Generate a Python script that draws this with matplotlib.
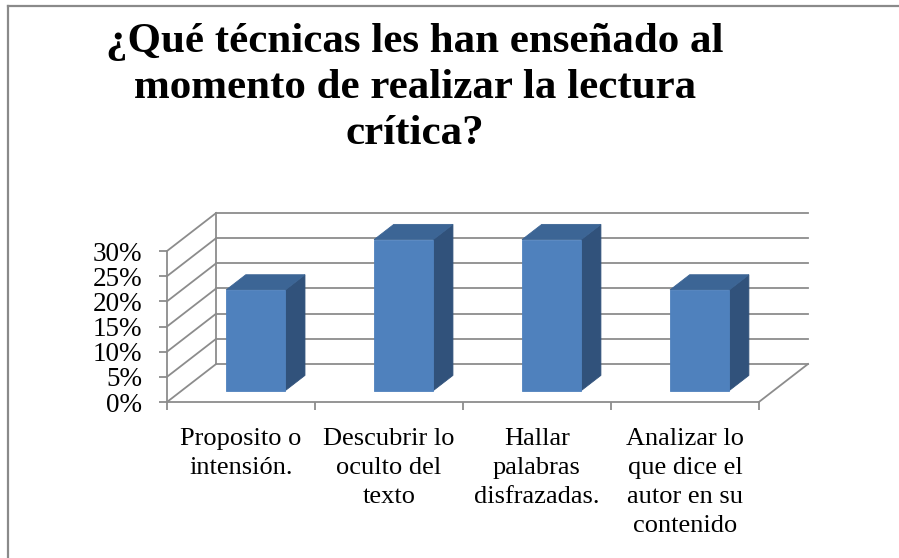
import matplotlib
matplotlib.use("Agg")
import matplotlib.pyplot as plt
from matplotlib.patches import Polygon
from matplotlib.lines import Line2D

plt.rcParams["font.family"] = ["Liberation Serif", "DejaVu Serif"]

# datos
titulo = "¿Qué técnicas les han enseñado al\nmomento de realizar la lectura\ncrítica?"
categorias = ["Proposito o\nintensión.",
              "Descubrir lo\noculto del\ntexto",
              "Hallar\npalabras\ndisfrazadas.",
              "Analizar lo\nque dice el\nautor en su\ncontenido"]
porcentajes = [20, 30, 30, 20]
ticks_y = [0, 5, 10, 15, 20, 25, 30]
etiquetas_y = ["0%", "5%", "10%", "15%", "20%", "25%", "30%"]

# profundidad de la perspectiva (en unidades de datos)
DX = 0.332
DY = 7.55
Y_MAX = 30

C_FRENTE = "#4F81BD"
C_ARRIBA = "#3C6595"
C_LADO = "#31527B"
C_GRID = "#8C8C8C"


def proy(x, y, d):
    return (x + d * DX, y + d * DY)


fig = plt.figure(figsize=(8.99, 5.58), dpi=100)
fig.patch.set_facecolor("white")

ax = fig.add_axes([167 / 899, 1 - 402 / 558, 641 / 899, 189 / 558])
n = len(categorias)
ax.set_xlim(0, n + DX)
ax.set_ylim(0, Y_MAX + DY)
ax.patch.set_visible(False)

# pared del fondo y pared izquierda
for y in ticks_y:
    x0, y0 = proy(0, y, 1)
    ax.plot([x0, n + DX], [y0, y0], color=C_GRID, lw=1.3, zorder=1, clip_on=False)
    ax.plot([0, x0], [y, y0], color=C_GRID, lw=1.3, zorder=1, clip_on=False)
xb, yb0 = proy(0, 0, 1)
ax.plot([xb, xb], [yb0, Y_MAX + DY], color=C_GRID, lw=1.3, zorder=1, clip_on=False)
# borde derecho del piso
xr, yr = proy(n, 0, 1)
ax.plot([n, xr], [0, yr], color=C_GRID, lw=1.3, zorder=1, clip_on=False)

# barras 3D
for i, v in enumerate(porcentajes):
    x0, x1 = i + 0.3, i + 0.7
    d0, d1 = 0.3, 0.7
    frente = [proy(x0, 0, d0), proy(x1, 0, d0), proy(x1, v, d0), proy(x0, v, d0)]
    arriba = [proy(x0, v, d0), proy(x1, v, d0), proy(x1, v, d1), proy(x0, v, d1)]
    lado = [proy(x1, 0, d0), proy(x1, 0, d1), proy(x1, v, d1), proy(x1, v, d0)]
    for pts, c in [(lado, C_LADO), (arriba, C_ARRIBA), (frente, C_FRENTE)]:
        ax.add_patch(Polygon(pts, closed=True, facecolor=c, edgecolor=c,
                             lw=0.6, zorder=3))

# ejes
for s in ["top", "right"]:
    ax.spines[s].set_visible(False)
ax.spines["left"].set_bounds(0, Y_MAX)
ax.spines["bottom"].set_bounds(0, n)
for s in ["left", "bottom"]:
    ax.spines[s].set_color(C_GRID)
    ax.spines[s].set_linewidth(1.3)
    ax.spines[s].set_zorder(2)

ax.set_yticks(ticks_y)
ax.set_yticklabels(etiquetas_y)
ax.set_xticks(range(n + 1))
ax.set_xticklabels([""] * (n + 1))
ax.set_xticks([i + 0.5 for i in range(n)], minor=True)
ax.set_xticklabels(categorias, minor=True)
ax.tick_params(axis="y", direction="out", length=6, width=1.3, color=C_GRID,
               pad=12, labelsize=19.5)
ax.tick_params(axis="x", which="major", direction="out", length=6, width=1.3,
               color=C_GRID)
ax.tick_params(axis="x", which="minor", length=0, pad=19, labelsize=19)
for t in ax.get_xticklabels(minor=True):
    t.set_linespacing(1.4)

# titulo
fig.text(415 / 899, 1 - 23 / 558, titulo, ha="center", va="top",
         fontsize=31, fontweight="bold", linespacing=1.28)

# marco
fig.add_artist(Line2D([8 / 899, 1], [1 - 6 / 558, 1 - 6 / 558],
                      color="#8A8A8A", lw=1.6, transform=fig.transFigure))
fig.add_artist(Line2D([8 / 899, 8 / 899], [0, 1 - 6 / 558],
                      color="#8A8A8A", lw=1.6, transform=fig.transFigure))

fig.savefig("out.png", dpi=100, facecolor="white")
plt.close(fig)
